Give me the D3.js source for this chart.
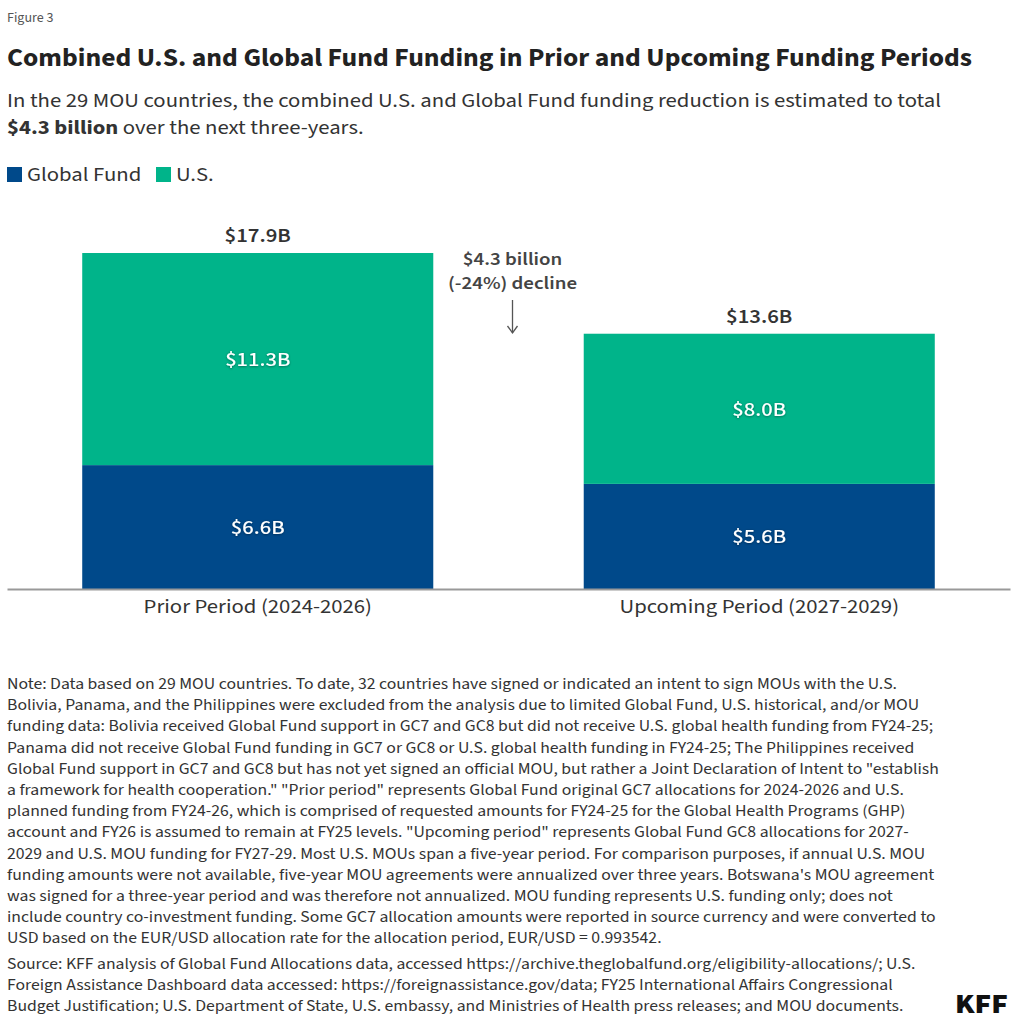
<!DOCTYPE html>
<html>
<head>
<meta charset="utf-8">
<script src="https://cdn.jsdelivr.net/npm/d3@7"></script>
<style>
  html, body { margin: 0; padding: 0; background: #fff; }
  svg { display: block; font-family: "Source Sans Pro", "Source Sans 3", Lato, sans-serif; }
</style>
</head>
<body>
<svg id="chart" width="1016" height="1024"></svg>
<script>
// --- data ---
const periods = ["Prior Period (2024-2026)", "Upcoming Period (2027-2029)"];
const seriesNames = ["Global Fund", "U.S."];
const globalFund = [6.6, 5.6];
const usFunding = [11.3, 8.0];
const seriesColors = ["#00498a", "#00b48a"];

const figureLabel = "Figure 3";
const title = "Combined U.S. and Global Fund Funding in Prior and Upcoming Funding Periods";
const subtitle = [
  [{t: "In the 29 MOU countries, the combined U.S. and Global Fund funding reduction is estimated to total", b: false}],
  [{t: "$4.3 billion", b: true}, {t: " over the next three-years.", b: false}]
];
const annotation = ["$4.3 billion", "(-24%) decline"];

const noteLines = [
  "Note: Data based on 29 MOU countries. To date, 32 countries have signed or indicated an intent to sign MOUs with the U.S.",
  "Bolivia, Panama, and the Philippines were excluded from the analysis due to limited Global Fund, U.S. historical, and/or MOU",
  "funding data: Bolivia received Global Fund support in GC7 and GC8 but did not receive U.S. global health funding from FY24-25;",
  "Panama did not receive Global Fund funding in GC7 or GC8 or U.S. global health funding in FY24-25; The Philippines received",
  "Global Fund support in GC7 and GC8 but has not yet signed an official MOU, but rather a Joint Declaration of Intent to \"establish",
  "a framework for health cooperation.\" \"Prior period\" represents Global Fund original GC7 allocations for 2024-2026 and U.S.",
  "planned funding from FY24-26, which is comprised of requested amounts for FY24-25 for the Global Health Programs (GHP)",
  "account and FY26 is assumed to remain at FY25 levels. \"Upcoming period\" represents Global Fund GC8 allocations for 2027-",
  "2029 and U.S. MOU funding for FY27-29. Most U.S. MOUs span a five-year period. For comparison purposes, if annual U.S. MOU",
  "funding amounts were not available, five-year MOU agreements were annualized over three years. Botswana's MOU agreement",
  "was signed for a three-year period and was therefore not annualized. MOU funding represents U.S. funding only; does not",
  "include country co-investment funding. Some GC7 allocation amounts were reported in source currency and were converted to",
  "USD based on the EUR/USD allocation rate for the allocation period, EUR/USD = 0.993542."
];
const sourceLines = [
  "Source: KFF analysis of Global Fund Allocations data, accessed https://archive.theglobalfund.org/eligibility-allocations/; U.S.",
  "Foreign Assistance Dashboard data accessed: https://foreignassistance.gov/data; FY25 International Affairs Congressional",
  "Budget Justification; U.S. Department of State, U.S. embassy, and Ministries of Health press releases; and MOU documents."
];

// --- setup ---
const svg = d3.select("#chart");
const textColor = "#333";
const left = 7;

svg.append("rect").attr("width", 1016).attr("height", 1024).attr("fill", "#fff");

const defs = svg.append("defs");
defs.append("filter").attr("id", "shadow")
  .attr("x", "-20%").attr("y", "-40%").attr("width", "140%").attr("height", "180%")
  .append("feDropShadow")
  .attr("dx", 0).attr("dy", 0.6).attr("stdDeviation", 0.8)
  .attr("flood-color", "#000").attr("flood-opacity", 0.45);

// squeeze text horizontally so the wide fallback font matches the condensed original
function squeeze(sel, k) {
  sel.each(function() {
    const w = this.getComputedTextLength();
    d3.select(this).attr("textLength", w * k).attr("lengthAdjust", "spacingAndGlyphs");
  });
}
function factor(sel, target) {
  return target / sel.node().getComputedTextLength();
}

// --- header ---
svg.append("text").attr("x", left).attr("y", 22)
  .attr("font-size", 14).attr("fill", "#555").text(figureLabel);

const titleText = svg.append("text").attr("x", left).attr("y", 66)
  .attr("font-size", 25).attr("font-weight", 700).attr("fill", "#222").text(title);
squeeze(titleText, factor(titleText, 965));

const subG = svg.append("g");
const subRows = subG.selectAll("text").data(subtitle).join("text")
  .attr("x", left).attr("y", (d, i) => 107 + i * 27)
  .attr("font-size", 19.5).attr("fill", textColor);
subRows.selectAll("tspan").data(d => d).join("tspan")
  .attr("font-weight", d => d.b ? 700 : 400).text(d => d.t);
const kSub = factor(subRows.filter((d, i) => i === 0), 934);
subRows.selectAll("tspan").each(function() {
  const w = this.getComputedTextLength();
  d3.select(this).attr("textLength", w * kSub).attr("lengthAdjust", "spacingAndGlyphs");
});

// legend
const legend = svg.append("g").attr("transform", "translate(7,167)");
const legendX = [0, 149];
const li = legend.selectAll("g").data(seriesNames).join("g")
  .attr("transform", (d, i) => `translate(${legendX[i]},0)`);
li.append("rect").attr("width", 15).attr("height", 15)
  .attr("fill", (d, i) => seriesColors[i]);
const lt = li.append("text").attr("x", 20).attr("y", 13.5)
  .attr("font-size", 19.5).attr("fill", textColor).text(d => d);
squeeze(lt, kSub);

// --- chart ---
const x = d3.scaleBand().domain(periods).range([7, 1010])
  .paddingInner(0.3).paddingOuter(0.15);
const y = d3.scaleLinear().domain([0, 20]).range([589, 213.6]);

const rows = periods.map((p, i) => ({period: p, "Global Fund": globalFund[i], "U.S.": usFunding[i]}));
const stacked = d3.stack().keys(seriesNames)(rows);

const layers = svg.append("g").selectAll("g").data(stacked).join("g")
  .attr("fill", (d, i) => seriesColors[i]);
layers.selectAll("rect").data(d => d).join("rect")
  .attr("x", d => x(d.data.period))
  .attr("y", d => y(d[1]))
  .attr("width", x.bandwidth())
  .attr("height", d => y(d[0]) - y(d[1]));

// segment labels
const segLabels = svg.append("g").selectAll("g").data(stacked).join("g")
  .selectAll("text").data(d => d).join("text")
  .attr("x", d => x(d.data.period) + x.bandwidth() / 2)
  .attr("y", d => (y(d[0]) + y(d[1])) / 2 + 7)
  .attr("text-anchor", "middle")
  .attr("font-size", 19.5).attr("font-weight", 500).attr("fill", "#fff")
  .attr("filter", "url(#shadow)")
  .text(d => `$${(d[1] - d[0]).toFixed(1)}B`);
squeeze(segLabels, kSub);

// total labels
const totals = rows.map(r => r["Global Fund"] + r["U.S."]);
const totLabels = svg.append("g").selectAll("text").data(periods).join("text")
  .attr("x", d => x(d) + x.bandwidth() / 2)
  .attr("y", (d, i) => y(totals[i]) - 11)
  .attr("text-anchor", "middle")
  .attr("font-size", 19.5).attr("font-weight", 600).attr("fill", textColor)
  .text((d, i) => `$${totals[i].toFixed(1)}B`);
squeeze(totLabels, kSub);

// x axis
const axis = svg.append("g").attr("transform", "translate(0,589)")
  .call(d3.axisBottom(x).tickSize(0).tickSizeOuter(0).tickPadding(10))
  .attr("font-family", null).attr("font-size", null);
axis.select(".domain").attr("stroke", "#999").attr("stroke-width", 2);
const tickText = axis.selectAll(".tick text")
  .attr("font-size", 19.5).attr("fill", textColor)
  .attr("dy", "0.71em");
squeeze(tickText, kSub);

// decline annotation, in the gap between the bars
const gapX = (x(periods[0]) + x.bandwidth() + x(periods[1])) / 2 + 4;
const ann = svg.append("g").attr("transform", `translate(${gapX},0)`);
const annText = ann.selectAll("text").data(annotation).join("text")
  .attr("y", (d, i) => 265 + i * 24)
  .attr("text-anchor", "middle")
  .attr("font-size", 18).attr("font-weight", 600).attr("fill", "#444")
  .text(d => d);
squeeze(annText, kSub);
ann.append("line").attr("x1", 0).attr("x2", 0).attr("y1", 300).attr("y2", 333)
  .attr("stroke", "#555").attr("stroke-width", 1.3);
ann.append("path").attr("d", "M-5,326 L0,333 L5,326")
  .attr("fill", "none").attr("stroke", "#555").attr("stroke-width", 1.3);

// --- notes & source ---
const notes = svg.append("g").selectAll("text").data(noteLines).join("text")
  .attr("x", left).attr("y", (d, i) => 689 + i * 21.2)
  .attr("font-size", 15).attr("fill", textColor).text(d => d);
const kNote = factor(notes.filter((d, i) => i === 0), 890);
squeeze(notes, kNote);

const src = svg.append("g").selectAll("text").data(sourceLines).join("text")
  .attr("x", left).attr("y", (d, i) => 969 + i * 21.2)
  .attr("font-size", 15).attr("fill", textColor).text(d => d);
squeeze(src, kNote);

// logo
const logo = svg.append("text").attr("x", 1008).attr("y", 1013)
  .attr("text-anchor", "end").attr("font-size", 28).attr("font-weight", 900)
  .attr("fill", "#111").text("KFF");
squeeze(logo, factor(logo, 53));
</script>
</body>
</html>
